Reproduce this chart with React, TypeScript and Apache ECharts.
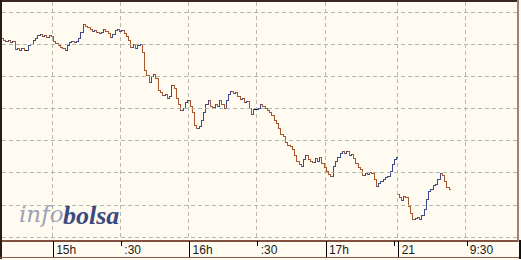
import React, { useEffect, useRef } from "react";
import * as echarts from "echarts";

// Session minutes shown on the category axis
const day1From = [14, 38];
const day1To = [17, 31];
const day2From = [9, 0];
const day2To = [9, 52];

// Axis labels / ticks / vertical grid
const labelCats = ["15:00", "15:30", "16:00", "16:30", "17:00", "9:00", "9:30"];
const labelTexts = ["15h", ":30", "16h", ":30", "17h", "21", "9:30"];
const majorTickCats = ["15:00", "16:00", "17:00", "9:00"];
const minorTickCats = ["15:30", "16:30", "17:30", "9:30"];
const splitCats = ["15:00", "15:30", "16:00", "16:30", "17:00", "9:00", "9:30"];

// Horizontal grid values (price)
const gridValues = [9976, 9984, 9992, 10000, 10008, 10016, 10024, 10032];
const yMin = 9975;
const yMax = 10034.5;

// 1-minute closes, day 1 (14:38 .. 17:31)
const day1Open = 10025.5;
const day1Closes = [
  10025, 10024.75, 10025, 10024.5, 10024.75, 10022.75, 10023, 10022.5, 10023, 10022.5,
  10022.5, 10023.75, 10024, 10025, 10025.5, 10026.25, 10026.5, 10026, 10026.25, 10025.75,
  10026.25, 10026, 10024.75, 10024.25, 10023.75, 10023.25, 10023, 10022.5, 10023.75, 10024.5,
  10024.75, 10024.5, 10024.75, 10025.5, 10027, 10029, 10028.5, 10028.25, 10027.75, 10027.25,
  10027.5, 10027, 10026.75, 10027, 10027.75, 10027.25, 10026.75, 10025.75, 10026.5, 10027.5,
  10027.75, 10027.25, 10027.5, 10026.75, 10026, 10025, 10023.25, 10024, 10023, 10023.75,
  10024, 10022, 10017.5, 10016.25, 10014.5, 10016, 10016.5, 10015.5, 10012.5, 10012,
  10011.25, 10011.5, 10010.5, 10011, 10013.75, 10013, 10010.5, 10009, 10007.5, 10008,
  10009.5, 10010, 10008.5, 10007, 10004, 10003.25, 10003.75, 10005, 10007, 10009,
  10010, 10008.5, 10008.25, 10009, 10008.5, 10010, 10009, 10008, 10010, 10011.5,
  10012.25, 10011.75, 10012, 10011, 10010.25, 10010.5, 10009.5, 10009.75, 10008, 10006.5,
  10007.75, 10007.75, 10008, 10009, 10008.5, 10008, 10007.5, 10007, 10006.25, 10005,
  10004.5, 10003.25, 10001.75, 10001.25, 9999.75, 9999, 9998.75, 9998, 9996.5, 9995,
  9994.25, 9993.75, 9995.5, 9996.5, 9995.5, 9995, 9994.75, 9995.75, 9995, 9996,
  9994.5, 9993.5, 9992.5, 9991.75, 9991.25, 9993.75, 9995, 9996, 9997, 9997.5,
  9997, 9997.5, 9996.5, 9996.75, 9995.75, 9994.5, 9993.5, 9993, 9991.5, 9992,
  9991.75, 9992.25, 9992, 9990.5, 9988.75, 9989.5, 9990, 9990.5, 9991, 9991.25,
  9992.5, 9994.25, 9995.5, 9996,
];

// 1-minute closes, day 2 (from 9:00)
const day2Open = 9986.75;
const day2Closes = [
  9986, 9985.25, 9986.25, 9986, 9983.75, 9982, 9980.5, 9980.75, 9981, 9980.5,
  9981.5, 9983, 9985.5, 9987.5, 9988, 9989, 9989.25, 9990.5, 9992, 9991.5,
  9990, 9988.5, 9988,
];

const UP = "#3d4a8c";
const DOWN = "#a8562f";
const FLAT = "#1a1a1a";

function minuteCats(from: number[], to: number[]): string[] {
  const out: string[] = [];
  const a = from[0] * 60 + from[1];
  const b = to[0] * 60 + to[1];
  for (let m = a; m <= b; m++) {
    const h = Math.floor(m / 60);
    const mm = m % 60;
    out.push(`${h}:${mm < 10 ? "0" + mm : mm}`);
  }
  return out;
}

export default function App() {
  const ref = useRef<HTMLDivElement>(null);

  useEffect(() => {
    if (!ref.current) return;
    const chart = echarts.init(ref.current, null, { renderer: "svg" });

    const cats1 = minuteCats(day1From, day1To);
    const cats2 = minuteCats(day2From, day2To);
    const cats = cats1.concat(cats2);

    const bars: number[][] = [];
    day1Closes.forEach((c, i) => {
      const o = i === 0 ? day1Open : day1Closes[i - 1];
      bars.push([i, o, c]);
    });
    day2Closes.forEach((c, j) => {
      const o = j === 0 ? day2Open : day2Closes[j - 1];
      bars.push([cats1.length + j, o, c]);
    });

    const option: any = {
      animation: false,
      backgroundColor: "#fffbf0",
      grid: { left: 2, right: 3, top: 2, bottom: 19, containLabel: false },
      xAxis: [
        {
          type: "category",
          data: cats,
          boundaryGap: true,
          axisLine: { show: true, lineStyle: { color: "#82503f", width: 2 } },
          axisTick: {
            show: true,
            alignWithLabel: true,
            length: 17,
            interval: (_i: number, v: string) => majorTickCats.includes(v),
            lineStyle: { color: "#000000", width: 1 },
          },
          axisLabel: {
            show: true,
            interval: (_i: number, v: string) => labelCats.includes(v),
            formatter: (v: string) => {
              const k = labelCats.indexOf(v);
              return k >= 0 ? labelTexts[k] : "";
            },
            align: "left",
            padding: [0, 0, 0, 3],
            margin: 3,
            color: "#1a1a1a",
            fontFamily: "Liberation Sans, Arial, sans-serif",
            fontSize: 12,
          },
          splitLine: {
            show: true,
            interval: (_i: number, v: string) => splitCats.includes(v),
            lineStyle: { color: "#b9b9b0", type: [4, 3], width: 1 },
          },
        },
        {
          type: "category",
          data: cats,
          boundaryGap: true,
          position: "bottom",
          axisLine: { show: false },
          axisTick: {
            show: true,
            alignWithLabel: true,
            length: 5,
            interval: (_i: number, v: string) => minorTickCats.includes(v),
            lineStyle: { color: "#000000", width: 1 },
          },
          axisLabel: { show: false },
          splitLine: { show: false },
        },
      ],
      yAxis: {
        type: "value",
        min: yMin,
        max: yMax,
        show: false,
        splitLine: { show: false },
      },
      series: [
        {
          type: "custom",
          xAxisIndex: 0,
          data: bars,
          encode: { x: 0, y: [1, 2] },
          renderItem: (_params: any, api: any) => {
            const k = api.value(0);
            const o = api.value(1);
            const c = api.value(2);
            const po = api.coord([k, o]);
            const pc = api.coord([k, c]);
            const xi = Math.round(po[0]);
            const x = xi + 0.5;
            const color = c > o ? UP : c < o ? DOWN : FLAT;
            const yo = Math.round(po[1]);
            const yc = Math.round(pc[1]);
            const y1 = Math.min(yo, yc);
            const y2 = Math.max(yo, yc) + 1;
            return {
              type: "group",
              children: [
                { type: "line", shape: { x1: x, y1, x2: x, y2 }, style: { stroke: color, lineWidth: 1 } },
                { type: "line", shape: { x1: xi - 1, y1: yo + 0.5, x2: xi, y2: yo + 0.5 }, style: { stroke: color, lineWidth: 1 } },
                { type: "line", shape: { x1: xi + 1, y1: yc + 0.5, x2: xi + 2, y2: yc + 0.5 }, style: { stroke: color, lineWidth: 1 } },
              ],
            };
          },
          markLine: {
            silent: true,
            symbol: "none",
            label: { show: false },
            lineStyle: { color: "#adbdad", type: [4, 3], width: 1 },
            data: gridValues.map((v) => ({ yAxis: v })),
          },
          z: 3,
        },
      ],
      graphic: [
        { type: "rect", shape: { x: 0, y: 0, width: 519, height: 2 }, style: { fill: "#3a2624" }, z: 10 },
        { type: "rect", shape: { x: 0, y: 0, width: 2, height: 259 }, style: { fill: "#2a1a18" }, z: 10 },
        { type: "rect", shape: { x: 517, y: 0, width: 2, height: 241 }, style: { fill: "#a87c78" }, z: 10 },
        { type: "rect", shape: { x: 519, y: 240, width: 2, height: 19 }, style: { fill: "#111111" }, z: 10 },
        { type: "rect", shape: { x: 0, y: 257, width: 519, height: 1 }, style: { fill: "#8b5a4e" }, z: 10 },
        {
          type: "text",
          x: 19,
          y: 202,
          style: {
            text: "info",
            fill: "#9da1b6",
            fontFamily: "DejaVu Serif",
            fontStyle: "italic",
            fontSize: 23,
            verticalAlign: "top",
          },
          z: 1,
        },
        {
          type: "text",
          x: 63,
          y: 202,
          style: {
            text: "bolsa",
            fill: "#3b4a7e",
            fontFamily: "Times New Roman",
            fontStyle: "italic",
            fontWeight: "bold",
            fontSize: 26,
            verticalAlign: "top",
          },
          z: 1,
        },
      ],
    };

    chart.setOption(option);
    return () => chart.dispose();
  }, []);

  return (
    <div
      ref={ref}
      style={{ position: "absolute", left: 0, top: 0, width: 521, height: 260 }}
    />
  );
}
